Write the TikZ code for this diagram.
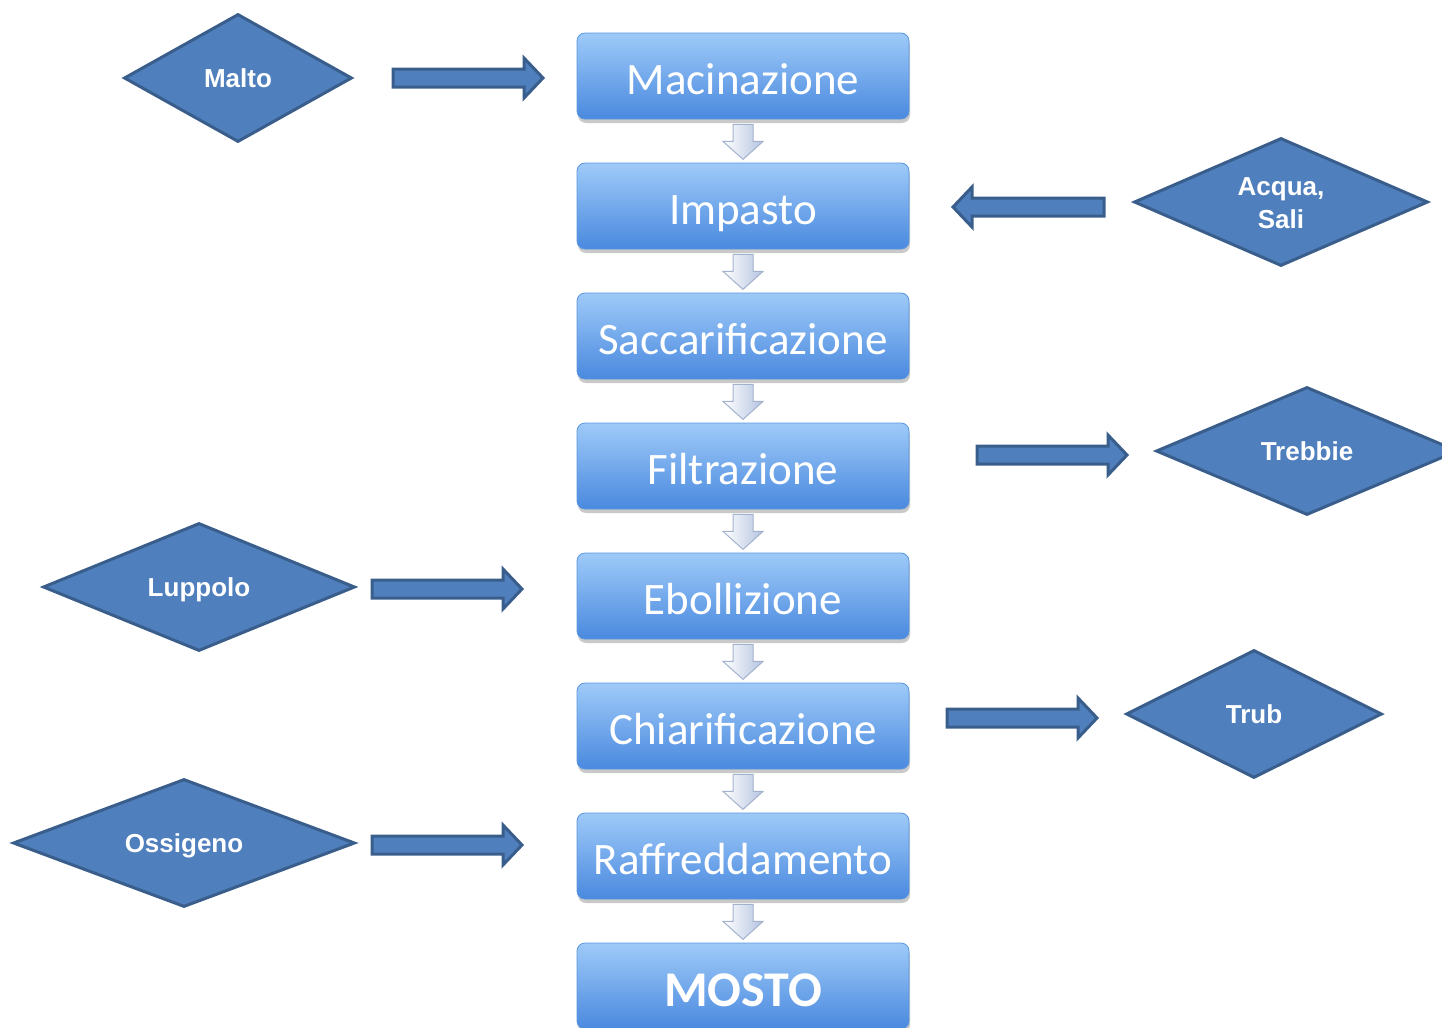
\documentclass[tikz,border=0pt]{standalone}
\usepackage{fontspec}
\setmainfont{Liberation Sans}
\newfontfamily\boxfont{Carlito}
\usetikzlibrary{shapes.geometric,shadows}
\definecolor{dfill}{HTML}{4F7FBC}
\definecolor{dline}{HTML}{3A5E8C}
\definecolor{btop}{HTML}{9ECAF8}
\definecolor{bmid}{HTML}{70A9EE}
\definecolor{bbot}{HTML}{4A89DF}
\definecolor{bedge}{HTML}{5A95DD}
\definecolor{sarrR}{HTML}{B4C3E0}
\definecolor{sarrL}{HTML}{A3B2CC}
% block arrow: tail x, head base x, tip x, y
\newcommand\blockarr[4]{%
  \draw[blockarrow] ({#1},{#4-9}) -- ({#2},{#4-9}) -- ({#2},{#4-20}) -- ({#3},{#4})
    -- ({#2},{#4+20}) -- ({#2},{#4+9}) -- ({#1},{#4+9}) -- cycle;}
\begin{document}
\begin{tikzpicture}[x=0.5pt,y=-0.5pt,
  stepbox/.style={rectangle, rounded corners=4pt, minimum width=166pt, minimum height=43pt,
    inner sep=0pt, top color=btop, middle color=bmid, bottom color=bbot,
    draw=bedge, line width=0.4pt,
    drop shadow={opacity=0.3, shadow xshift=0.5pt, shadow yshift=-2pt, fill=black!70},
    text=white, font=\boxfont\fontsize{22.5}{27}\selectfont, text height=18pt, text depth=0pt},
  mostobox/.style={stepbox, font=\boxfont\bfseries\fontsize{25}{30}\selectfont, text height=20pt},
  decision/.style={diamond, aspect=3, draw=dline, fill=dfill, line width=1.5pt, inner sep=0pt,
    text=white, align=center, font=\bfseries\fontsize{13}{16.5}\selectfont, minimum height=64pt,
    text height=9.4pt, text depth=0pt},
  blockarrow/.style={fill=dfill, draw=dline, line width=1.5pt, line join=miter},
  smallarr/.style={left color=white, right color=sarrR, draw=sarrL, line width=0.5pt, line join=miter}
]
\useasboundingbox (0,0) rectangle (1442,1028);
\clip (0,0) rectangle (1442,1028);

% process boxes
\node[stepbox] (b1) at (743,76) {Macinazione};
\node[stepbox] (b2) at (743,206) {Impasto};
\node[stepbox] (b3) at (743,336) {Saccarificazione};
\node[stepbox] (b4) at (743,466) {Filtrazione};
\node[stepbox] (b5) at (743,596) {Ebollizione};
\node[stepbox] (b6) at (743,726) {Chiarificazione};
\node[stepbox] (b7) at (743,856) {Raffreddamento};
\node[mostobox] (b8) at (743,986) {MOSTO};

% small down arrows between boxes
\foreach \b in {b1,b2,b3,b4,b5,b6,b7}{
  \draw[smallarr, shift={(\b.south)}] (-10,5) -- (10,5) -- (10,22) -- (20,22) -- (0,40)
    -- (-20,22) -- (-10,22) -- cycle;
}

% inputs / outputs
\node[decision, minimum width=114pt] (malto) at (238,78) {Malto};
\node[decision, minimum width=147pt, text height=26pt] (acqua) at (1281,202) {Acqua,\\Sali};
\node[decision, minimum width=151pt] (trebbie) at (1307,451) {Trebbie};
\node[decision, minimum width=156pt] (luppolo) at (199,587) {Luppolo};
\node[decision, minimum width=128pt] (trub) at (1254,714) {Trub};
\node[decision, minimum width=171pt] (ossigeno) at (184,843) {Ossigeno};

% block arrows
\blockarr{393}{524}{543}{78}
\blockarr{1104}{972}{953}{207}
\blockarr{977}{1108}{1127}{455}
\blockarr{372}{503}{522}{589}
\blockarr{947}{1078}{1097}{718}
\blockarr{372}{503}{522}{845}
\end{tikzpicture}
\end{document}
